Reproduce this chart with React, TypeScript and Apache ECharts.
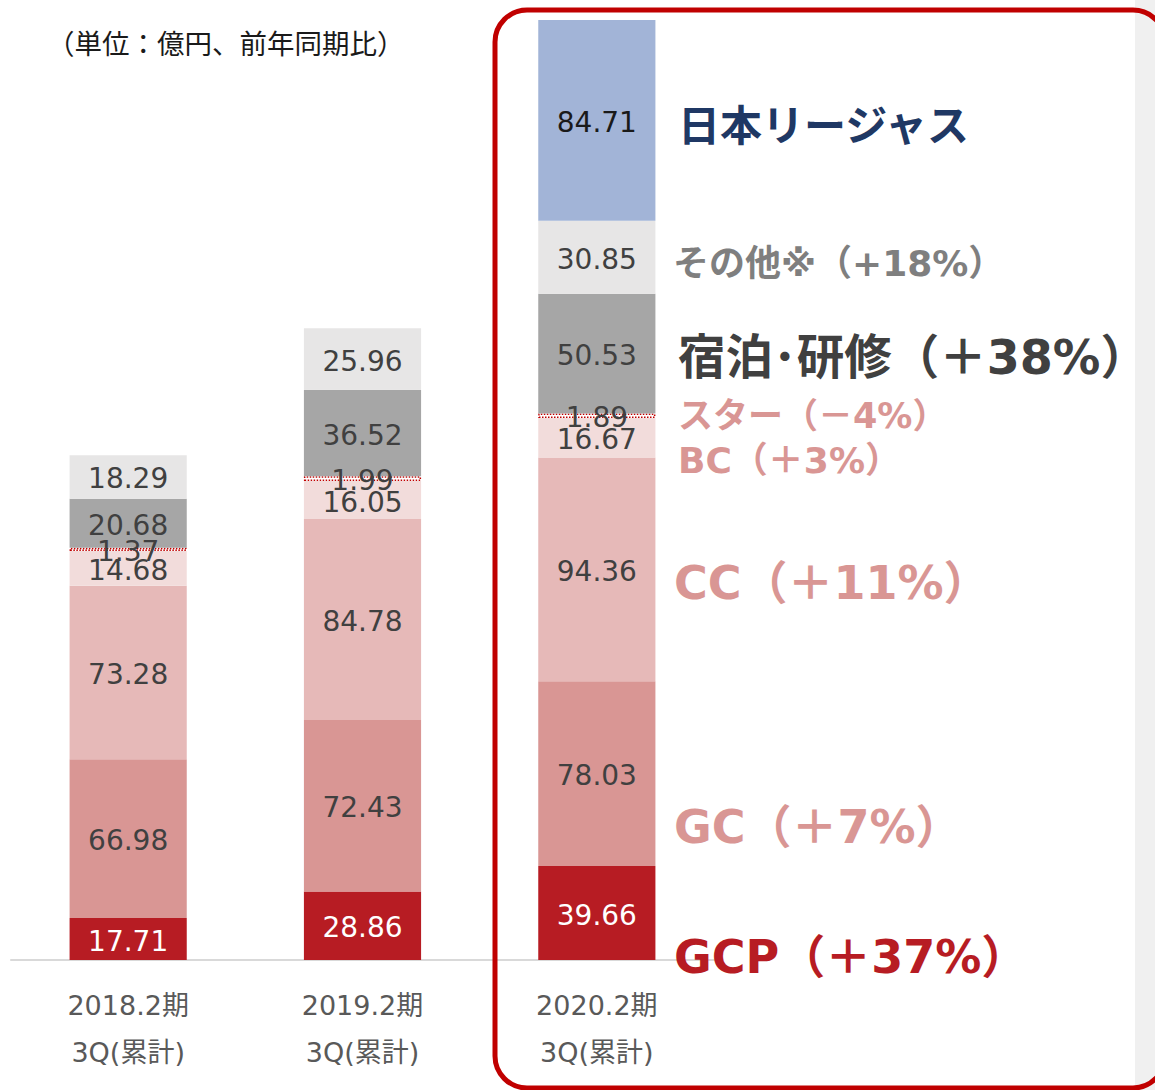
import React, { useEffect, useRef } from "react";
import * as echarts from "echarts";

const categories = ["2018.2期\n3Q(累計)", "2019.2期\n3Q(累計)", "2020.2期\n3Q(累計)"];
const gcp = [17.71, 28.86, 39.66];
const gc = [66.98, 72.43, 78.03];
const cc = [73.28, 84.78, 94.36];
const bc = [14.68, 16.05, 16.67];
const star = [1.37, 1.99, 1.89];
const stay = [20.68, 36.52, 50.53];
const other = [18.29, 25.96, 30.85];
const regius: (number | string)[] = ["-", "-", 84.71];

const title = "（単位：億円、前年同期比）";
const sideLabels = [
  { text: "日本リージャス", y: 126, size: 42, color: "#1f3864", x: 678 },
  { text: "その他※（+18%）", y: 263, size: 36, color: "#7f7f7f", x: 673 },
  { text: "宿泊･研修（＋38%）", y: 357, size: 47.5, color: "#404040", x: 678 },
  { text: "スター（－4%）", y: 416, size: 35, color: "#d99694", x: 678 },
  { text: "BC（＋3%）", y: 460, size: 36, color: "#d99694", x: 678 },
  { text: "CC（＋11%）", y: 583, size: 46, color: "#d99694", x: 674 },
  { text: "GC（＋7%）", y: 827, size: 46, color: "#d99694", x: 674 },
  { text: "GCP（＋37%）", y: 957, size: 46, color: "#b71c23", x: 674 },
];

const NUM_FONT = "'DejaVu Sans', 'Noto Sans CJK JP', sans-serif";
const JP_FONT = "'Noto Sans CJK JP', sans-serif";

export default function App() {
  const ref = useRef<HTMLDivElement>(null);
  useEffect(() => {
    document.body.style.margin = "0";
    const chart = echarts.init(ref.current!, null, { renderer: "svg" });
    const total = gcp[2] + gc[2] + cc[2] + bc[2] + star[2] + stay[2] + other[2] + (regius[2] as number);
    const mk = (name: string, data: (number | string)[], color: string, labelColor: string, extra: any = {}) => ({
      name,
      type: "bar",
      stack: "total",
      barWidth: "50%",
      data,
      itemStyle: { color, ...(extra.itemStyle || {}) },
      label: {
        show: true,
        position: "inside",
        offset: [0, 2],
        color: labelColor,
        fontSize: 28,
        fontFamily: NUM_FONT,
        formatter: (p: any) => Number(p.value).toFixed(2),
      },
      emphasis: { disabled: true },
    });
    chart.setOption({
      animation: false,
      backgroundColor: "#ffffff",
      grid: { left: 11, right: 441, top: 20, bottom: 130, containLabel: false },
      xAxis: {
        type: "category",
        data: categories,
        axisLine: { show: true, lineStyle: { color: "#d9d9d9", width: 2 } },
        axisTick: { show: false },
        axisLabel: {
          color: "#595959",
          fontSize: 27,
          fontFamily: NUM_FONT,
          lineHeight: 47,
          margin: 22,
        },
      },
      yAxis: {
        type: "value",
        min: 0,
        max: total,
        show: false,
        splitLine: { show: false },
      },
      series: [
        mk("GCP", gcp, "#b71c23", "#ffffff"),
        mk("GC", gc, "#d99694", "#404040"),
        mk("CC", cc, "#e6b9b8", "#404040"),
        mk("BC", bc, "#f2dcdb", "#404040"),
        mk("スター", star, "#ffffff", "#404040", {
          itemStyle: { borderColor: "#c00000", borderWidth: 1.5, borderType: "dotted" },
        }),
        mk("宿泊・研修", stay, "#a6a6a6", "#404040"),
        mk("その他", other, "#e7e6e6", "#404040"),
        mk("日本リージャス", regius, "#a2b4d7", "#1a1a1a"),
      ],
      graphic: [
        {
          type: "rect",
          shape: { x: 1135, y: 0, width: 20, height: 1090 },
          style: { fill: "#f0f0f0" },
          z: -1,
          silent: true,
        },
        {
          type: "text",
          left: 47,
          top: 28,
          style: { text: title, fontSize: 27.5, fill: "#1a1a1a", fontFamily: JP_FONT },
        },
        ...sideLabels.map((s) => ({
          type: "text",
          x: s.x,
          y: s.y,
          style: {
            text: s.text,
            fontSize: s.size,
            fontWeight: "bold",
            fill: s.color,
            fontFamily: NUM_FONT,
            verticalAlign: "middle",
            align: "left",
          },
          z: 10,
        })),
        {
          type: "rect",
          shape: { x: 495, y: 10, width: 670, height: 1078, r: 32 },
          style: { fill: "none", stroke: "#c00000", lineWidth: 5 },
          z: 20,
          silent: true,
        },
      ],
    });
    return () => chart.dispose();
  }, []);
  return <div ref={ref} style={{ width: 1155, height: 1090 }} />;
}
